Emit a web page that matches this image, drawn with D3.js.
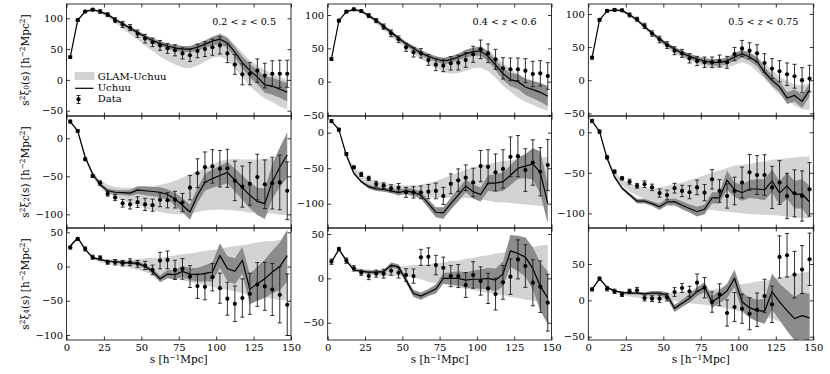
<!DOCTYPE html>
<html>
<head>
<meta charset="utf-8">
<script src="https://cdn.jsdelivr.net/npm/d3@7"></script>
<style>
body{margin:0;background:#fff;}
text{font-family:"DejaVu Serif",serif;fill:#000;}
.tick text{font-size:10px;}
</style>
</head>
<body>
<script>

// separation bins (h^-1 Mpc)
var sVals = [2.5,7.5,12.5,17.5,22.5,27.5,32.5,37.5,42.5,47.5,52.5,57.5,62.5,67.5,72.5,77.5,82.5,87.5,92.5,97.5,102.5,107.5,112.5,117.5,122.5,127.5,132.5,137.5,142.5,147.5];
var xTicks = [0,25,50,75,100,125,150];
var yTicks = [-100,-50,0,50,100];
var zLabels = [["0.2 < ","z"," < 0.5"],["0.4 < ","z"," < 0.6"],["0.5 < ","z"," < 0.75"]];
var legendNames = ["GLAM-Uchuu","Uchuu","Data"];

// monopole, 0.2<z<0.5
var xi0_z1_data = [37,97,111,114,111,106,97,90,85,75,67,61,56,51,48,43,40,47,50,53,56,43,25,9,10,15,7,10,10,10];
var xi0_z1_err = [2,2,2,2,3,3,4,5,5,6,7,7,8,8,9,9,10,11,12,13,14,15,16,17,18,19,20,21,22,22];
var xi0_z1_uchuu = [37,97,111,114,111,106,98,91,84,77,70,64,59,55,52,50,50,53,58,63,66,60,45,28,15,5,-8,-10,-15,-20];
var xi0_z1_uchuuErr = [1,1,1,1,1,2,2,2,3,3,3,4,4,4,5,5,5,6,6,7,8,8,9,10,11,12,13,14,14,15];
var xi0_z1_glam = [37,97,111,113,110,104,96,87,79,71,63,55,47,41,36,32,32,37,45,52,57,51,38,24,11,1,-7,-13,-19,-24];
var xi0_z1_glamErr = [1,1,2,2,2,3,3,4,5,6,7,8,9,10,11,12,13,14,15,16,19,19,19,20,21,22,23,23,24,24];

// monopole, 0.4<z<0.6
var xi0_z2_data = [34,91.5,105,108.5,106,99,91.5,82.5,72.5,63.5,51.5,44,42.5,32.5,25.5,24,27.5,28.5,32.5,41,48.5,42.5,33.5,20,18.5,18.5,16.5,11.5,12.5,8.5];
var xi0_z2_err = [2,2,2,2,2,3,3,4,5,5,6,7,7,8,9,9,10,11,11,12,14,14,15,16,17,17,18,19,19,20];
var xi0_z2_uchuu = [34,91.5,105,108,106,99,92,83,74,65,57,50,43,38,34,31,33,37,42,45,46,38,25,12,3,0,-8,-12,-16,-22];
var xi0_z2_uchuuErr = [1,1,1,1,1,2,2,2,3,3,3,4,4,4,4,5,5,5,6,6,7,7,8,9,10,11,12,13,14,15];
var xi0_z2_glam = [34,91,105,108,105,98,90,81,72,63,55,47,41,35,29,24,23,25,29,34,36,32,22,11,2,-6,-12,-17,-21,-25];
var xi0_z2_glamErr = [1,1,1,2,2,2,3,3,4,4,5,6,7,8,9,10,11,12,13,14,15,16,16,17,17,18,18,18,19,19];

// monopole, 0.5<z<0.75
var xi0_z3_data = [34,91,104.5,106,105.5,98.5,92,82,70.5,61.5,53,44.5,40.5,33,29,27,27,29,27,39.5,48,44.5,40.5,26,17.5,13.5,9,6,0,2.5];
var xi0_z3_err = [2,2,2,2,2,3,3,4,4,5,5,6,6,7,7,8,8,9,9,10,12,12,13,14,15,16,17,18,19,20];
var xi0_z3_uchuu = [34,91,104.5,106,105,99,91,81,71,62,54,47,41,36,32,29,27,27,29,35,40,35,28,12,0,-10,-27,-23,-32,-15];
var xi0_z3_uchuuErr = [1,1,1,1,1,1,2,2,2,3,3,3,4,4,4,4,5,5,5,6,6,6,7,7,8,8,9,9,10,10];
var xi0_z3_glam = [34,91,104,106,104,98,90,80,70,61,52,45,39,34,30,26,25,25,27,31,36,33,24,14,2,-8,-16,-22,-26,-25];
var xi0_z3_glamErr = [1,1,1,1,2,2,2,3,3,3,4,4,5,5,6,6,7,7,8,8,9,10,11,12,13,14,15,16,18,20];

// quadrupole, 0.2<z<0.5
var xi2_z1_data = [22,9.6,-27.6,-49.6,-59,-73,-78,-85.5,-87,-84,-87,-88,-81,-81.5,-80.7,-84.6,-65,-46,-38,-37,-40,-39.5,-56,-63.6,-60,-51,-60.5,-59,-58,-69];
var xi2_z1_err = [2,2,2,2,3,3,4,5,6,7,8,8,9,10,11,12,16,19,20,22,24,25,26,27,28,30,32,34,36,38];
var xi2_z1_uchuu = [22,9.6,-25,-47,-61,-69,-71,-71.5,-72,-68,-69,-70,-71,-74,-80,-88,-97,-75,-58,-53,-49,-45,-55,-65,-75,-83,-86,-57,-38,-22];
var xi2_z1_uchuuErr = [1,1,2,2,2,3,3,3,4,5,6,6,7,7,8,9,10,10,11,12,13,14,15,16,17,18,20,23,26,30];
var xi2_z1_glam = [22,9,-26,-48,-60,-67,-71,-73,-75,-77,-78,-79,-79,-79,-78,-76,-73,-70,-67,-64,-62,-61,-61,-62,-63,-63,-63,-63,-64,-64];
var xi2_z1_glamErr = [1,2,3,4,5,6,7,8,10,12,14,16,18,20,22,24,26,27,28,30,32,33,34,34,35,35,36,36,37,37];

// quadrupole, 0.4<z<0.6
var xi2_z2_data = [16.4,4.2,-30,-48.8,-58.7,-64.3,-72.3,-74.6,-78.4,-77.5,-84,-84,-84,-83,-82,-89,-72,-67,-63.4,-70,-47,-48,-56,-51,-34,-33,-52.6,-42,-55,-45.5];
var xi2_z2_err = [2,2,2,2,3,3,4,4,5,6,7,8,9,10,11,12,14,16,18,20,22,24,26,27,28,29,30,32,34,36];
var xi2_z2_uchuu = [16.4,4.2,-32,-57,-69,-76,-79,-80,-82,-84.5,-82,-84,-88,-100,-112,-113,-100,-88,-75,-83,-87,-71,-71,-69,-60,-50,-47,-44,-56,-100];
var xi2_z2_uchuuErr = [1,1,2,2,2,3,3,3,3,4,4,5,5,6,7,8,8,9,9,10,10,11,12,13,14,15,17,22,30,28];
var xi2_z2_glam = [16,4,-30,-52,-63,-69,-73,-76,-78,-80,-81,-82,-82,-81,-80,-78,-76,-74,-72,-71,-70,-70,-70,-69,-69,-69,-69,-69,-69,-69];
var xi2_z2_glamErr = [1,2,3,3,4,4,5,5,6,6,7,8,9,10,12,14,16,18,20,22,24,26,28,29,30,31,32,33,34,35];

// quadrupole, 0.5<z<0.75
var xi2_z3_data = [14,0.8,-31,-48.6,-56.8,-61,-66,-64,-68,-75,-77.4,-69,-72.4,-74,-68,-74.5,-58,-72.4,-78.6,-72.4,-62,-49.4,-52.7,-52.7,-68,-62,-78.6,-75.3,-78.6,-70.4];
var xi2_z3_err = [2,2,2,2,2,3,3,4,4,5,6,6,7,8,9,10,12,14,15,17,19,22,24,25,26,27,28,29,31,33];
var xi2_z3_uchuu = [14,0.8,-32,-55,-69,-77,-85,-85,-88,-92,-86,-85.6,-90,-94,-98,-95,-81,-81,-59,-71,-74.5,-70,-70,-71,-60,-75,-66,-77,-76,-86];
var xi2_z3_uchuuErr = [1,1,1,2,2,2,3,3,3,4,4,4,5,5,6,6,7,7,12,9,10,11,12,13,14,15,16,17,18,20];
var xi2_z3_glam = [14,1,-31,-52,-62,-68,-72,-75,-77,-78,-78,-78,-77,-76,-75,-74,-73,-72,-71,-70,-70,-70,-69,-69,-68,-68,-68,-68,-68,-68];
var xi2_z3_glamErr = [1,2,3,3,4,5,6,7,8,10,12,14,15,17,19,21,23,25,27,29,30,31,32,33,34,35,36,37,38,38];

// hexadecapole, 0.2<z<0.5
var xi4_z1_data = [27.7,40.3,25.7,13.6,12.6,6.3,6.3,4.9,6.3,3.9,1.5,-4.9,8.7,9.7,-4.9,-3.4,-14.6,-28.6,-29.6,-15.5,-31.6,-47,-54.4,-46,-39.8,-26.2,-29,-33.5,-41.3,-55.8];
var xi4_z1_err = [2,2,3,3,3,3,4,4,5,5,6,7,12,13,14,15,16,18,19,20,22,24,26,28,30,32,35,38,41,45];
var xi4_z1_uchuu = [30,42,25,13,10,8,7,6,5,5,0,-7,-18,-11,-12,-7,-11,-12,-10,-8,16,-3,-7,9,-33,-25,-18,-8,0,16];
var xi4_z1_uchuuErr = [1,1,1,1,1,1,2,2,2,3,3,4,5,6,7,8,9,10,12,14,18,18,19,20,22,25,28,31,35,38];
var xi4_z1_glam = [28,40,25,13,9,7,6,5,4,3,2,1,0,0,-1,-1,-2,-2,-2,-3,-3,-3,-3,-4,-4,-4,-4,-5,-5,-5];
var xi4_z1_glamErr = [1,1,2,2,3,3,4,5,6,8,10,12,13,15,17,19,21,23,25,27,29,31,33,35,37,39,41,42,44,45];

// hexadecapole, 0.4<z<0.6
var xi4_z2_data = [18.8,33,20,11.3,6.4,2.6,5.3,5.3,8.6,6.4,3.8,2.6,23.7,24.4,15,12,2.6,2.6,-7.5,3.8,-3,-11.3,-17.7,-4.5,1.9,21.4,13.9,-4.9,-9.4,-27.4];
var xi4_z2_err = [3,2,3,3,3,4,4,5,5,6,7,8,9,10,11,12,12,13,14,15,16,17,18,19,20,22,24,26,29,32];
var xi4_z2_uchuu = [18,33,20,9.4,8,7,7,7.5,15,13,-2,-17,-20,-16,-12,0,0,0,-2,-1,-1,0,-2,5,31,28,24,11,-9,-22];
var xi4_z2_uchuuErr = [1,1,1,1,2,2,2,2,3,3,3,4,4,4,5,6,7,8,9,10,11,12,13,14,18,20,22,24,27,30];
var xi4_z2_glam = [18,32,20,11,8,7,6,6,7,8,8,8,7,6,6,6,6,5,5,5,5,5,5,5,5,5,5,5,5,4];
var xi4_z2_glamErr = [1,1,2,2,2,3,3,4,4,5,6,7,8,10,11,12,14,15,17,18,20,21,23,24,26,27,29,30,32,34];

// hexadecapole, 0.5<z<0.75
var xi4_z3_data = [15,30,16,12.4,8.3,12.4,13.8,3.2,2.3,2.3,4.1,11.5,17,12.4,24.3,17.5,-2.3,7.8,-17.4,-9.2,-11.5,-18.4,-12.9,6,-5.5,59.7,62,35.4,42.3,56.5];
var xi4_z3_err = [2,2,3,3,3,3,4,4,4,5,5,6,6,7,12,14,14,15,18,20,20,22,23,23,25,29,30,32,33,36];
var xi4_z3_uchuu = [15,30,18,13,11,10,10,9,10,10,7,-11,-4,3,12,18,-2,5,13,30,-2,-10,-14,-15,12,-2,-14,-25,-21,-24];
var xi4_z3_uchuuErr = [1,1,1,1,1,2,2,2,3,3,4,5,5,6,6,7,8,9,10,12,13,14,15,17,25,25,28,30,32,33];
var xi4_z3_glam = [15,29,17,12,10,8,7,6,6,5,5,5,5,4,4,4,4,4,4,4,3,3,3,2,2,1,1,0,-1,-2];
var xi4_z3_glamErr = [1,1,2,2,2,3,3,4,4,5,5,6,7,8,9,10,11,13,15,17,19,21,23,25,27,30,33,36,39,42];

var panels = [
  {row:0,col:0,yDom:[-58.6,123.2],data:xi0_z1_data,err:xi0_z1_err,uchuu:xi0_z1_uchuu,uchuuErr:xi0_z1_uchuuErr,glam:xi0_z1_glam,glamErr:xi0_z1_glamErr},
  {row:0,col:1,yDom:[-51.5,116.5],data:xi0_z2_data,err:xi0_z2_err,uchuu:xi0_z2_uchuu,uchuuErr:xi0_z2_uchuuErr,glam:xi0_z2_glam,glamErr:xi0_z2_glamErr},
  {row:0,col:2,yDom:[-54,115],data:xi0_z3_data,err:xi0_z3_err,uchuu:xi0_z3_uchuu,uchuuErr:xi0_z3_uchuuErr,glam:xi0_z3_glam,glamErr:xi0_z3_glamErr},
  {row:1,col:0,yDom:[-118,29.3],data:xi2_z1_data,err:xi2_z1_err,uchuu:xi2_z1_uchuu,uchuuErr:xi2_z1_uchuuErr,glam:xi2_z1_glam,glamErr:xi2_z1_glamErr},
  {row:1,col:1,yDom:[-134.2,23.5],data:xi2_z2_data,err:xi2_z2_err,uchuu:xi2_z2_uchuu,uchuuErr:xi2_z2_uchuuErr,glam:xi2_z2_glam,glamErr:xi2_z2_glamErr},
  {row:1,col:2,yDom:[-118.1,20.1],data:xi2_z3_data,err:xi2_z3_err,uchuu:xi2_z3_uchuu,uchuuErr:xi2_z3_uchuuErr,glam:xi2_z3_glam,glamErr:xi2_z3_glamErr},
  {row:2,col:0,yDom:[-107.3,56.3],data:xi4_z1_data,err:xi4_z1_err,uchuu:xi4_z1_uchuu,uchuuErr:xi4_z1_uchuuErr,glam:xi4_z1_glam,glamErr:xi4_z1_glamErr},
  {row:2,col:1,yDom:[-69.5,56.8],data:xi4_z2_data,err:xi4_z2_err,uchuu:xi4_z2_uchuu,uchuuErr:xi4_z2_uchuuErr,glam:xi4_z2_glam,glamErr:xi4_z2_glamErr},
  {row:2,col:2,yDom:[-54.5,99.5],data:xi4_z3_data,err:xi4_z3_err,uchuu:xi4_z3_uchuu,uchuuErr:xi4_z3_uchuuErr,glam:xi4_z3_glam,glamErr:xi4_z3_glamErr}
];

var cols = [{left:66.5,right:291},{left:327.7,right:551.5},{left:588.3,right:813.3}];
var rows = [{top:4,bottom:116},{top:116,bottom:228},{top:228,bottom:340}];
var ell = ["0","2","4"];

var lightGrey = "#d3d3d3", darkGrey = "#8c8c8c";

var svg = d3.select("body").append("svg")
    .attr("width",830)
    .attr("height",374);

// text with super/subscripts
function rich(sel, parts){
  parts.forEach(function(p){
    var t = sel.append("tspan").text(p[0]);
    if (p[1] == "sup") t.attr("font-size","70%").attr("baseline-shift","40%");
    if (p[1] == "sub") t.attr("font-size","70%").attr("baseline-shift","-20%");
    if (p[1] == "it") t.attr("font-style","italic");
  });
  return sel;
}

panels.forEach(function(p,k){
  var c = cols[p.col], r = rows[p.row];
  var w = c.right - c.left, h = r.bottom - r.top;

  var x = d3.scaleLinear().domain([0,150]).range([0,w]);
  var y = d3.scaleLinear().domain(p.yDom).range([h,0]);

  var g = svg.append("g")
      .attr("transform","translate("+c.left+","+r.top+")");

  g.append("clipPath").attr("id","clip"+k)
    .append("rect").attr("width",w).attr("height",h);
  var plot = g.append("g").attr("clip-path","url(#clip"+k+")");

  function band(mid,half){
    return d3.area()
      .x(function(d,i){ return x(sVals[i]); })
      .y0(function(d,i){ return y(mid[i]-half[i]); })
      .y1(function(d,i){ return y(mid[i]+half[i]); });
  }

  plot.append("path").datum(p.glam)
    .attr("d",band(p.glam,p.glamErr))
    .attr("fill",lightGrey);

  plot.append("path").datum(p.uchuu)
    .attr("d",band(p.uchuu,p.uchuuErr))
    .attr("fill",darkGrey);

  plot.append("path").datum(p.uchuu)
    .attr("d",d3.line()
      .x(function(d,i){ return x(sVals[i]); })
      .y(function(d){ return y(d); }))
    .attr("fill","none")
    .attr("stroke","#000")
    .attr("stroke-width",1.2);

  // error bars
  var eb = plot.selectAll(".eb")
    .data(p.data)
    .enter().append("g")
    .attr("class","eb")
    .attr("stroke","#1a1a1a")
    .attr("stroke-width",0.9);
  eb.append("line")
    .attr("x1",function(d,i){ return x(sVals[i]); })
    .attr("x2",function(d,i){ return x(sVals[i]); })
    .attr("y1",function(d,i){ return y(d-p.err[i]); })
    .attr("y2",function(d,i){ return y(d+p.err[i]); });
  [-1,1].forEach(function(sg){
    eb.append("line")
      .attr("x1",function(d,i){ return x(sVals[i])-2; })
      .attr("x2",function(d,i){ return x(sVals[i])+2; })
      .attr("y1",function(d,i){ return y(d+sg*p.err[i]); })
      .attr("y2",function(d,i){ return y(d+sg*p.err[i]); });
  });
  plot.selectAll(".pt")
    .data(p.data)
    .enter().append("circle")
    .attr("class","pt")
    .attr("cx",function(d,i){ return x(sVals[i]); })
    .attr("cy",function(d){ return y(d); })
    .attr("r",2.1)
    .attr("fill","#000");

  // axes, ticks pointing inwards on every side
  var yt = yTicks.filter(function(v){ return v >= p.yDom[0] && v <= p.yDom[1]; });
  var fmt = d3.format("d");

  var ax = [];
  ax.push(g.append("g").call(d3.axisLeft(y).tickValues(yt).tickFormat(fmt)
      .tickSizeInner(-3.5).tickSizeOuter(0).tickPadding(3.5)));
  ax.push(g.append("g").attr("transform","translate("+w+",0)")
      .call(d3.axisRight(y).tickValues(yt).tickFormat("")
      .tickSizeInner(-3.5).tickSizeOuter(0)));
  ax.push(g.append("g").attr("transform","translate(0,"+h+")")
      .call(d3.axisBottom(x).tickValues(xTicks).tickFormat(p.row == 2 ? fmt : "")
      .tickSizeInner(-3.5).tickSizeOuter(0).tickPadding(4)));
  ax.push(g.append("g")
      .call(d3.axisTop(x).tickValues(xTicks).tickFormat("")
      .tickSizeInner(-3.5).tickSizeOuter(0)));
  ax.forEach(function(a){
    a.select(".domain").remove();
    a.selectAll(".tick line").attr("stroke","#000").attr("stroke-width",0.8);
  });

  g.append("rect")
    .attr("width",w).attr("height",h)
    .attr("fill","none")
    .attr("stroke","#000")
    .attr("stroke-width",0.8);

  // y label on the left column
  if (p.col == 0){
    var yl = svg.append("text")
      .attr("transform","translate(25,"+(r.top+h/2)+") rotate(-90)")
      .attr("text-anchor","middle")
      .attr("dominant-baseline","central")
      .attr("font-size","10.5px");
    rich(yl,[["s"],["2","sup"],["ξ"],[ell[p.row],"sub"],["(s) [h"],["−2","sup"],["Mpc"],["2","sup"],["]"]]);
  }

  // x label on the bottom row
  if (p.row == 2){
    var xl = g.append("text")
      .attr("x",w/2)
      .attr("y",h+22.5)
      .attr("text-anchor","middle")
      .attr("font-size","10.5px");
    rich(xl,[["s [h"],["−1","sup"],["Mpc]"]]);
  }

  // redshift label
  if (p.row == 0){
    var zl = g.append("text")
      .attr("x",w-15)
      .attr("y",20.5)
      .attr("text-anchor","end")
      .attr("font-size","9.6px");
    var zz = zLabels[p.col];
    rich(zl,[[zz[0]],[zz[1],"it"],[zz[2]]]);
  }

  // legend in the first panel
  if (k == 0){
    var lg = g.append("g").attr("transform","translate(8,0)");
    lg.append("rect")
      .attr("x",0).attr("y",68)
      .attr("width",20).attr("height",8)
      .attr("fill",lightGrey);
    lg.append("line")
      .attr("x1",0.5).attr("x2",19)
      .attr("y1",84.3).attr("y2",84.3)
      .attr("stroke","#000").attr("stroke-width",1.2);
    lg.append("line")
      .attr("x1",4).attr("x2",4)
      .attr("y1",91.5).attr("y2",99.5)
      .attr("stroke","#1a1a1a").attr("stroke-width",0.9);
    [91.5,99.5].forEach(function(yy){
      lg.append("line")
        .attr("x1",2).attr("x2",6)
        .attr("y1",yy).attr("y2",yy)
        .attr("stroke","#1a1a1a").attr("stroke-width",0.9);
    });
    lg.append("circle").attr("cx",4).attr("cy",95.3).attr("r",2.1).attr("fill","#000");
    legendNames.forEach(function(name,i){
      lg.append("text")
        .attr("x",23.2)
        .attr("y",75.8 + i*11.3)
        .attr("font-size","10px")
        .text(name);
    });
  }
});

</script>
</body>
</html>
